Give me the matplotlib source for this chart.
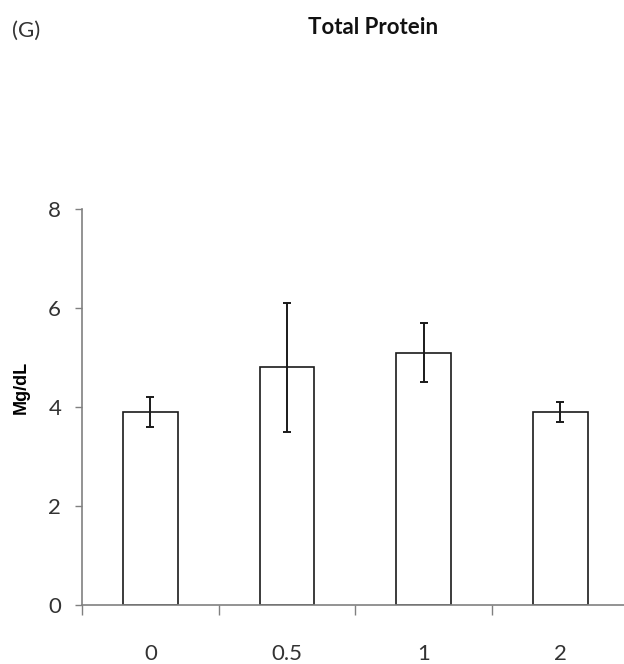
import matplotlib
matplotlib.use("Agg")
import matplotlib.pyplot as plt
import numpy as np

categories = ["0", "0.5", "1", "2"]
values = [3.9, 4.8, 5.1, 3.9]
errors = [0.3, 1.3, 0.6, 0.2]
yticks = [0, 2, 4, 6, 8]

plt.rcParams['font.family'] = ['Lato', 'DejaVu Sans']

W, H = 624, 664
fig = plt.figure(figsize=(W/100, H/100), dpi=100)
x0, y0, ytop = 82, 605, 209
ax = fig.add_axes([x0/W, (H-y0)/H, 1 - x0/W, (y0-ytop)/H])

idx = np.arange(len(categories))
ax.bar(idx, values, width=0.40, color="white", edgecolor="#1a1a1a", linewidth=1.2, zorder=2)
ax.errorbar(idx, values, yerr=errors, fmt="none", ecolor="#1a1a1a", elinewidth=1.4,
            capsize=3, capthick=1.4, zorder=3)

ax.set_xlim(-0.5, -0.5 + (W - x0)/136.7)
ax.set_ylim(0, 8)
ax.set_yticks(yticks)
ax.set_yticklabels([str(t) for t in yticks], fontsize=16, color="#333333")

ax.set_xticks(idx)
ax.set_xticklabels(categories, fontsize=16, color="#333333")
ax.tick_params(axis='x', length=0, pad=28)
ax.set_xticks(np.arange(-0.5, len(categories) - 0.5, 1.0), minor=True)
ax.tick_params(axis='x', which='minor', length=7, color="#808080", width=1)
ax.tick_params(axis='y', length=5, color="#808080", width=1, pad=10)

for s in ["top", "right"]:
    ax.spines[s].set_visible(False)
for s in ["left", "bottom"]:
    ax.spines[s].set_color("#808080")
    ax.spines[s].set_linewidth(1.2)

ax.set_ylabel("Mg/dL", fontsize=13, fontweight="bold", family=['Liberation Sans', 'DejaVu Sans'])
ax.yaxis.set_label_coords((30 - x0)/(W - x0), (y0 - 387)/(y0 - ytop))

fig.text(373/W, 1 - 28/H, "Total Protein", ha="center", va="center", fontsize=16,
         fontweight="bold", color="#111111")
fig.text(12/W, 1 - 31/H, "(G)", ha="left", va="center", fontsize=16, color="#333333")

fig.savefig("out.png", dpi=100)
